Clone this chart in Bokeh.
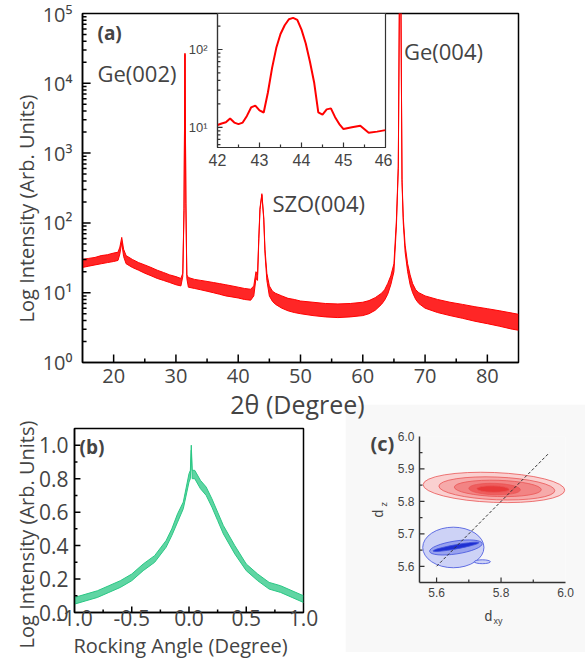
import math
from bokeh.plotting import figure
from bokeh.models import (ColumnDataSource, GridBox, Label, FixedTicker,
                          CustomJSTickFormatter, NumeralTickFormatter, Range1d)
from bokeh.embed import file_html
from bokeh.resources import INLINE

# ---------------- data ----------------
# (a) XRD 2theta scan: lower / upper edge of the noisy trace
xrd_2theta = [15, 16, 17, 18, 19, 20, 20.7, 21.0, 21.3, 21.6, 22.0, 23, 24, 25, 26, 27, 28, 29, 30,
              30.8, 31.1, 31.3, 31.45, 31.6, 31.75, 32.0, 33, 34, 35, 36, 37, 38, 39, 40, 41, 42,
              42.5, 42.85, 43.1, 43.3, 43.5, 43.8, 44.1, 44.3, 44.6, 45, 45.5, 46, 47, 48, 49, 50,
              52, 54, 56, 58, 60, 61, 62, 63, 63.5, 64, 64.5, 65, 65.4, 65.7, 65.9, 66.1, 66.3,
              66.5, 66.8, 67.2, 67.6, 68, 68.5, 69, 70, 72, 74, 76, 78, 80, 82, 84, 85]
xrd_lo = [23, 24, 25, 26, 27, 28, 29, 36, 52, 33, 26, 23, 21, 19, 17.5, 16, 15, 14, 13,
          12.5, 17, 150, 26000, 180, 16, 12, 11.5, 11, 10.5, 10, 9.5, 9, 8.7, 8.4, 8, 7.8,
          9, 16, 15, 55, 155, 250, 112, 36, 15, 9, 7.5, 6.8, 6, 5.5, 5.2, 5.0,
          4.7, 4.5, 4.4, 4.5, 4.7, 5.0, 5.6, 6.8, 7.8, 9.5, 13, 20, 90, 600, 300000, 300000, 380,
          100, 38, 20, 13, 10, 8, 7, 6, 5.2, 4.7, 4.3, 3.9, 3.6, 3.3, 3.0, 2.9]
xrd_hi = [30, 31, 32, 34, 35, 37, 38, 45, 62, 42, 34, 30, 27, 25, 23, 21, 19.5, 18, 17,
          16, 19, 160, 27000, 190, 18, 16.5, 15.5, 15, 14.5, 14, 13.5, 13, 12.5, 12, 11.5, 11.2,
          12.5, 20, 18, 60, 165, 262, 120, 42, 19, 12.5, 10.5, 9.8, 9, 8.3, 8, 7.6,
          7.3, 7.0, 6.9, 7.0, 7.3, 7.7, 8.5, 9.8, 11, 13.5, 17.5, 26, 110, 650, 300000, 300000, 420,
          120, 48, 26, 18, 13.5, 11, 10, 9, 8, 7.3, 6.8, 6.3, 5.9, 5.5, 5.1, 4.9]

# inset: SZO(004) peak
inset_2theta = [42.0, 42.1, 42.2, 42.3, 42.4, 42.5, 42.6, 42.7, 42.8, 42.9, 43.0, 43.1, 43.2, 43.3,
                43.4, 43.5, 43.6, 43.7, 43.8, 43.9, 44.0, 44.1, 44.2, 44.3, 44.4, 44.5, 44.6, 44.7,
                44.8, 44.9, 45.0, 45.2, 45.4, 45.6, 45.8, 46.0]
inset_int = [10.7, 11.2, 11.6, 13, 11.5, 11, 11.5, 14, 18, 19, 16.5, 15.5, 28, 58,
             105, 158, 205, 245, 255, 240, 180, 120, 70, 38, 15.5, 14.5, 17, 17.5,
             13.5, 11, 9.5, 10, 10.5, 8.5, 8.8, 9.2]

# (b) rocking curve
rock_angle = [-1.0, -0.9, -0.8, -0.7, -0.6, -0.5, -0.4, -0.3, -0.2, -0.15, -0.1, -0.05, 0.0,
              0.012, 0.02, 0.028, 0.05, 0.1, 0.15, 0.2, 0.25, 0.3, 0.4, 0.5, 0.6, 0.7, 0.8, 0.9, 1.0]
rock_lo = [0.05, 0.07, 0.09, 0.12, 0.15, 0.19, 0.25, 0.30, 0.39, 0.46, 0.54, 0.62, 0.78,
           0.80, 0.97, 0.80, 0.80, 0.74, 0.70, 0.63, 0.55, 0.47, 0.35, 0.25, 0.19, 0.14, 0.12, 0.09, 0.06]
rock_hi = [0.09, 0.11, 0.13, 0.16, 0.19, 0.23, 0.29, 0.34, 0.43, 0.50, 0.59, 0.66, 0.83,
           0.85, 1.00, 0.85, 0.85, 0.79, 0.75, 0.68, 0.60, 0.52, 0.40, 0.29, 0.23, 0.18, 0.16, 0.13, 0.10]

# (c) reciprocal-space-map contour levels (ellipse approximations)
red_x = [5.778, 5.787, 5.79, 5.78, 5.775]
red_y = [5.843, 5.840, 5.840, 5.838, 5.838]
red_w = [0.44, 0.36, 0.27, 0.16, 0.10]
red_h = [0.092, 0.070, 0.050, 0.035, 0.020]
red_angle = [-0.04, -0.04, -0.03, -0.03, -0.02]
red_fill = ["#fad0d0", "#f6aaaa", "#f28484", "#ee5e5e", "#e83a3a"]

blue_x = [5.652, 5.742, 5.66, 5.66]
blue_y = [5.658, 5.614, 5.658, 5.660]
blue_w = [0.19, 0.05, 0.165, 0.145]
blue_h = [0.125, 0.012, 0.04, 0.013]
blue_angle = [0.0, 0.0, 0.15, 0.18]
blue_fill = ["#cdd2f6", "#cdd2f6", "#98a2ee", "#1f30d2"]

diag_x = [5.6, 5.95]
diag_y = [5.6, 5.95]

# tick positions
a_x_major = [20, 30, 40, 50, 60, 70, 80]
a_x_minor = [25, 35, 45, 55, 65, 75]
a_y_major = [10, 100, 1000, 10000]
a_y_minor = [m * 10 ** k for k in range(0, 5) for m in range(2, 10)]
in_x_major = [43, 44, 45]
in_x_minor = [42.5, 43.5, 44.5, 45.5]
in_y_major = [10, 100]
in_y_minor = [6, 7, 8, 9, 20, 30, 40, 50, 60, 70, 80, 90, 200]
b_x_major = [-0.5, 0.0, 0.5]
b_x_minor = [-0.75, -0.25, 0.25, 0.75]
b_y_major = [0.2, 0.4, 0.6, 0.8, 1.0]
b_y_minor = [0.1, 0.3, 0.5, 0.7, 0.9]
c_x_major = [5.6, 5.8]
c_x_minor = [5.7, 5.9]
c_y_major = [5.6, 5.7, 5.8, 5.9]
c_y_minor = [5.65, 5.75, 5.85, 5.95]

# tick labels shown on the axes
a_x_labels = [20, 30, 40, 50, 60, 70, 80]
a_y_labels = [1, 10, 100, 1000, 10000, 100000]
in_x_labels = [42, 43, 44, 45, 46]
b_x_labels = [-1.0, -0.5, 0.0, 0.5, 1.0]
b_y_labels = [0.0, 0.2, 0.4, 0.6, 0.8, 1.0]
c_x_labels = [5.6, 5.8, 6.0]
c_y_labels = [5.6, 5.7, 5.8, 5.9, 6.0]

FONT = "Open Sans"
ARIAL = "Liberation Sans"
RED = "#ff0000"
GREEN = "#2ac784"

SUP_CODE = """
const s = {"0":"\\u2070","1":"\\u00b9","2":"\\u00b2","3":"\\u00b3","4":"\\u2074",
           "5":"\\u2075","6":"\\u2076","7":"\\u2077","8":"\\u2078","9":"\\u2079"};
const e = Math.round(Math.log10(tick));
return "10" + String(e).split("").map((c) => s[c]).join("");
"""


def style_axis(ax, labels, lw=1.5, color="black"):
    ax.ticker = FixedTicker(ticks=labels, minor_ticks=[])
    ax.major_tick_in = 0
    ax.major_tick_out = 0
    ax.minor_tick_in = 0
    ax.minor_tick_out = 0
    ax.axis_line_width = lw
    ax.axis_line_color = color


def xticks(p, xs, y0, y1, lw, color):
    n = len(xs)
    p.segment(x0=xs, y0=[y0] * n, x1=xs, y1=[y1] * n, line_color=color, line_width=lw)


def yticks(p, ys, x0, x1, lw, color):
    n = len(ys)
    p.segment(x0=[x0] * n, y0=ys, x1=[x1] * n, y1=ys, line_color=color, line_width=lw)


def base_fig(**kw):
    p = figure(output_backend="svg", toolbar_location=None, **kw)
    p.grid.visible = False
    p.frame_align = False
    return p


# ---------------- (a) main XRD ----------------
p_a = base_fig(width=585, height=420, x_range=Range1d(15, 85), y_range=Range1d(1, 1e5),
               y_axis_type="log", min_border_left=82, min_border_right=67,
               min_border_top=13, min_border_bottom=58)
p_a.outline_line_color = "black"
p_a.outline_line_width = 1.5
style_axis(p_a.xaxis[0], a_x_labels)
style_axis(p_a.yaxis[0], a_y_labels)
p_a.yaxis.formatter = CustomJSTickFormatter(code=SUP_CODE)
for ax in (p_a.xaxis[0], p_a.yaxis[0]):
    ax.major_label_text_font = FONT
    ax.major_label_text_font_size = "20px"
p_a.xaxis.major_label_standoff = 6
p_a.yaxis.major_label_standoff = 10

src_a = ColumnDataSource(dict(x=xrd_2theta, lo=xrd_lo, hi=xrd_hi))
p_a.varea(x="x", y1="lo", y2="hi", source=src_a, fill_color=RED, fill_alpha=0.85)
p_a.line("x", "lo", source=src_a, line_color=RED, line_width=1)
p_a.line("x", "hi", source=src_a, line_color=RED, line_width=1)
# inward ticks (about 8 px major, 4 px minor)
xticks(p_a, a_x_major, 1, 1.30, 1.5, "black")
xticks(p_a, a_x_minor, 1, 1.14, 1.5, "black")
yticks(p_a, a_y_major, 15, 16.3, 1.5, "black")
yticks(p_a, a_y_minor, 15, 15.65, 1.5, "black")

p_a.add_layout(Label(x=17.4, y=5.3e4, text="(a)", text_font=FONT, text_font_size="19px",
                     text_font_style="bold", text_baseline="middle"))
p_a.add_layout(Label(x=17.4, y=1.42e4, text="Ge(002)", text_font=FONT, text_font_size="22px",
                     text_baseline="middle"))
p_a.add_layout(Label(x=45.5, y=195, text="SZO(004)", text_font=FONT, text_font_size="22px",
                     text_baseline="middle"))
p_a.add_layout(Label(x=66.6, y=2.9e4, text="Ge(004)", text_font=FONT, text_font_size="22px",
                     text_baseline="middle"))

# ---------------- inset ----------------
p_in = base_fig(width=212, height=166, x_range=Range1d(42, 46), y_range=Range1d(5.5, 290),
                y_axis_type="log", min_border_left=37, min_border_right=7,
                min_border_top=7, min_border_bottom=25)
p_in.border_fill_alpha = 0
p_in.background_fill_color = "white"
p_in.outline_line_color = "#333333"
p_in.outline_line_width = 1.2
style_axis(p_in.xaxis[0], in_x_labels, 1.2, "#333333")
style_axis(p_in.yaxis[0], in_y_major, 1.2, "#333333")
p_in.yaxis.formatter = CustomJSTickFormatter(code=SUP_CODE)
for ax in (p_in.xaxis[0], p_in.yaxis[0]):
    ax.major_label_text_font = ARIAL
p_in.xaxis.major_label_text_font_size = "16px"
p_in.xaxis.major_label_standoff = 6
p_in.yaxis.major_label_text_font_size = "13px"
p_in.yaxis.major_label_standoff = 10

p_in.line(inset_2theta, inset_int, line_color=RED, line_width=2)
xticks(p_in, in_x_major, 5.5, 6.4, 1.2, "#333333")
xticks(p_in, in_x_minor, 5.5, 6.0, 1.2, "#333333")
yticks(p_in, in_y_major, 42, 42.12, 1.2, "#333333")
yticks(p_in, in_y_minor, 42, 42.07, 1.2, "#333333")

# ---------------- (b) rocking curve ----------------
p_b = base_fig(width=345, height=247, x_range=Range1d(-1, 1), y_range=Range1d(0, 1.1),
               min_border_left=74, min_border_right=42, min_border_top=12, min_border_bottom=51)
p_b.border_fill_alpha = 0
p_b.outline_line_color = "black"
p_b.outline_line_width = 1.5
style_axis(p_b.xaxis[0], b_x_labels)
style_axis(p_b.yaxis[0], b_y_labels)
for ax in (p_b.xaxis[0], p_b.yaxis[0]):
    ax.formatter = NumeralTickFormatter(format="0.0")
    ax.major_label_text_font = FONT
    ax.major_label_text_font_size = "21px"
p_b.xaxis.major_label_standoff = -3
p_b.yaxis.major_label_standoff = 6

src_b = ColumnDataSource(dict(x=rock_angle, lo=rock_lo, hi=rock_hi))
p_b.varea(x="x", y1="lo", y2="hi", source=src_b, fill_color=GREEN, fill_alpha=0.75)
p_b.line("x", "lo", source=src_b, line_color=GREEN, line_width=1)
p_b.line("x", "hi", source=src_b, line_color=GREEN, line_width=1)
xticks(p_b, b_x_major, 0, 0.036, 1.5, "black")
xticks(p_b, b_x_minor, 0, 0.018, 1.5, "black")
yticks(p_b, b_y_major, -1, -0.948, 1.5, "black")
yticks(p_b, b_y_minor, -1, -0.974, 1.5, "black")
p_b.add_layout(Label(x=-0.956, y=0.99, text="(b)", text_font=FONT, text_font_size="19px",
                     text_font_style="bold", text_baseline="middle"))

# ---------------- (c) RSM ----------------
p_c = base_fig(width=240, height=248, x_range=Range1d(5.547, 6.0), y_range=Range1d(5.55, 6.0),
               min_border_left=74, min_border_right=20, min_border_top=32, min_border_bottom=70)
p_c.border_fill_color = "#f8f8f8"
p_c.background_fill_color = "#f8f8f8"
p_c.outline_line_color = None
style_axis(p_c.xaxis[0], c_x_labels, 1.5, "#333333")
style_axis(p_c.yaxis[0], c_y_labels, 1.5, "#333333")
for ax in (p_c.xaxis[0], p_c.yaxis[0]):
    ax.formatter = NumeralTickFormatter(format="0.0")
    ax.major_label_text_font = ARIAL
    ax.major_label_text_font_size = "12px"
    ax.major_label_text_color = "#444444"
    ax.major_label_standoff = 5

src_red = ColumnDataSource(dict(x=red_x, y=red_y, w=red_w, h=red_h, a=red_angle, c=red_fill))
p_c.ellipse(x="x", y="y", width="w", height="h", angle="a", source=src_red,
            fill_color="c", line_color="#ea5555", line_width=0.8)
src_blue = ColumnDataSource(dict(x=blue_x, y=blue_y, w=blue_w, h=blue_h, a=blue_angle, c=blue_fill))
p_c.ellipse(x="x", y="y", width="w", height="h", angle="a", source=src_blue,
            fill_color="c", line_color="#4050dd", line_width=0.8)
p_c.line(diag_x, diag_y, line_color="#333333", line_width=1, line_dash="3 2")
xticks(p_c, c_x_major, 5.55, 5.5655, 1.2, "#333333")
xticks(p_c, c_x_minor, 5.55, 5.5593, 1.2, "#333333")
yticks(p_c, c_y_major, 5.547, 5.5625, 1.2, "#333333")
yticks(p_c, c_y_minor, 5.547, 5.5563, 1.2, "#333333")

# ---------------- overlay for titles that sit outside the plot frames (page pixels) ----------------
ov = figure(width=585, height=663, x_range=Range1d(0, 585), y_range=Range1d(663, 0),
            min_border=0, output_backend="svg", toolbar_location=None)
ov.frame_align = False
ov.axis.visible = False
ov.grid.visible = False
ov.outline_line_color = None
ov.background_fill_alpha = 0
ov.border_fill_alpha = 0

ov_texts = [
    dict(x=26, y=208, text="Log Intensity (Arb. Units)", size="20px", angle=math.pi / 2),
    dict(x=297, y=403, text="2θ (Degree)", size="25px", angle=0),
    dict(x=26, y=534, text="Log Intensity (Arb. Units)", size="20px", angle=math.pi / 2),
    dict(x=180, y=645, text="Rocking Angle (Degree)", size="20px", angle=0),
]
for t in ov_texts:
    ov.add_layout(Label(x=t["x"], y=t["y"], text=t["text"], text_font=FONT, text_font_size=t["size"],
                        angle=t["angle"], text_align="center", text_baseline="middle"))

ov.add_layout(Label(x=370, y=443, text="(c)", text_font=FONT, text_font_size="20px",
                    text_font_style="bold", text_baseline="middle"))
ov.add_layout(Label(x=484, y=615, text="d", text_font=ARIAL, text_font_size="14px", text_color="#444444",
                    text_baseline="middle"))
ov.add_layout(Label(x=493, y=620, text="xy", text_font=ARIAL, text_font_size="9px", text_color="#444444",
                    text_baseline="middle"))
ov.add_layout(Label(x=377, y=517, text="d", text_font=ARIAL, text_font_size="14px", text_color="#444444",
                    angle=math.pi / 2, text_baseline="middle"))
ov.add_layout(Label(x=383, y=506, text="z", text_font=ARIAL, text_font_size="9px", text_color="#444444",
                    angle=math.pi / 2, text_baseline="middle"))

# ---------------- layout ----------------
row_tracks = ["6px", "166px", "232px", "12px", "4px", "232px", "11px"]
col_tracks = ["180px", "165px", "47px", "193px"]
grid = GridBox(children=[(p_a, 0, 0, 5, 4), (p_in, 1, 1, 1, 2), (p_b, 4, 0, 3, 2),
                         (p_c, 3, 2, 3, 2), (ov, 0, 0, 7, 4)],
               rows=row_tracks, cols=col_tracks, spacing=0)

open("out.html", "w", encoding="utf-8").write(file_html(grid, INLINE))
